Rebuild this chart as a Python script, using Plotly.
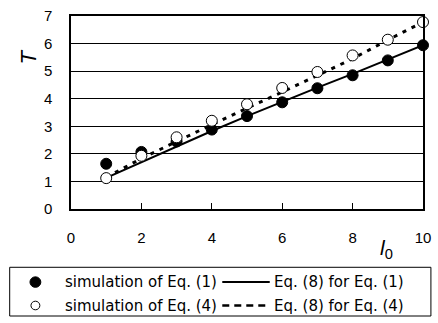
import plotly.graph_objects as go

# ---- data ----
l0_values = [1, 2, 3, 4, 5, 6, 7, 8, 9, 10]
sim_eq1 = [1.64, 2.07, 2.45, 2.88, 3.37, 3.87, 4.38, 4.85, 5.39, 5.94]
sim_eq4 = [1.12, 1.93, 2.60, 3.20, 3.80, 4.39, 4.97, 5.57, 6.14, 6.78]
fit_eq1 = [1.13, 1.70, 2.28, 2.83, 3.37, 3.89, 4.40, 4.90, 5.42, 5.94]
fit_eq4 = [1.15, 1.83, 2.45, 3.06, 3.66, 4.24, 4.84, 5.45, 6.13, 6.78]
x_ticks = [0, 2, 4, 6, 8, 10]
y_ticks = [0, 1, 2, 3, 4, 5, 6, 7]
legend_labels = ["simulation of Eq. (1)", "Eq. (8) for Eq. (1)",
                 "simulation of Eq. (4)", "Eq. (8) for Eq. (4)"]

W, H = 438, 323
ML, MR, MT, MB = 71, 11, 7, 114
PW, PH = W - ML - MR, H - MT - MB


def px(x):
    return (x - ML) / PW


def py(y):
    return (H - MB - y) / PH


FONT = "Liberation Sans, Arial, sans-serif"
LFONT = "DejaVu Sans, sans-serif"

fig = go.Figure()
fig.add_trace(go.Scatter(x=l0_values, y=fit_eq1, mode="lines",
                         line=dict(color="black", width=2), showlegend=False))
fig.add_trace(go.Scatter(x=l0_values, y=fit_eq4, mode="lines",
                         line=dict(color="black", width=3, dash="4px,6px"),
                         showlegend=False))
fig.add_trace(go.Scatter(x=l0_values, y=sim_eq1, mode="markers",
                         marker=dict(color="black", size=11, symbol="circle",
                                     line=dict(color="black", width=1)),
                         showlegend=False, cliponaxis=False))
fig.add_trace(go.Scatter(x=l0_values, y=sim_eq4, mode="markers",
                         marker=dict(color="white", size=11, symbol="circle",
                                     line=dict(color="black", width=1)),
                         showlegend=False, cliponaxis=False))

shapes = []
annotations = []

# legend box
shapes.append(dict(type="rect", xref="paper", yref="paper",
                   x0=px(9), x1=px(435), y0=py(270), y1=py(321),
                   line=dict(color="black", width=1), fillcolor="white", layer="above"))
r1, r2 = 285.5, 310
# filled marker
shapes.append(dict(type="circle", xref="paper", yref="paper",
                   x0=px(35 - 5.5), x1=px(35 + 5.5), y0=py(r1 + 5.5), y1=py(r1 - 5.5),
                   line=dict(color="black", width=1), fillcolor="black", layer="above"))
# open marker
shapes.append(dict(type="circle", xref="paper", yref="paper",
                   x0=px(35 - 4.5), x1=px(35 + 4.5), y0=py(r2 + 4.5), y1=py(r2 - 4.5),
                   line=dict(color="black", width=1), fillcolor="white", layer="above"))
# lines
shapes.append(dict(type="line", xref="paper", yref="paper",
                   x0=px(224), x1=px(272), y0=py(r1), y1=py(r1),
                   line=dict(color="black", width=2), layer="above"))
shapes.append(dict(type="line", xref="paper", yref="paper",
                   x0=px(224), x1=px(272), y0=py(r2), y1=py(r2),
                   line=dict(color="black", width=2.5, dash="7px,5px"), layer="above"))

for txt, xx, yy in [(legend_labels[0], 63, r1), (legend_labels[1], 274, r1),
                    (legend_labels[2], 63, r2), (legend_labels[3], 274, r2)]:
    annotations.append(dict(text=txt, xref="paper", yref="paper", x=px(xx), y=py(yy),
                            xanchor="left", yanchor="middle", showarrow=False,
                            font=dict(family=LFONT, size=15, color="black")))

# axis titles
annotations.append(dict(text="<i>T</i>", xref="paper", yref="paper", x=px(28), y=py(50),
                        xanchor="center", yanchor="middle", showarrow=False, textangle=-90,
                        font=dict(family=FONT, size=22, color="black")))
annotations.append(dict(text="<i>l</i><sub>0</sub>", xref="paper", yref="paper",
                        x=px(390), y=py(251), xanchor="center", yanchor="middle",
                        showarrow=False, font=dict(family=FONT, size=21, color="black")))

fig.update_layout(
    width=W, height=H,
    margin=dict(l=ML, r=MR, t=MT, b=MB),
    paper_bgcolor="white", plot_bgcolor="white",
    shapes=shapes, annotations=annotations,
    xaxis=dict(range=[0, 10], tickvals=x_ticks, ticks="inside", ticklen=6,
               tickwidth=1, tickcolor="black", showgrid=False, zeroline=False,
               showline=True, linecolor="black", linewidth=1.5, mirror=True,
               ticklabelstandoff=14,
               tickfont=dict(family=FONT, size=15, color="black")),
    yaxis=dict(range=[0, 7], tickvals=y_ticks, ticks="", showgrid=True,
               gridcolor="black", gridwidth=1, zeroline=False,
               showline=True, linecolor="black", linewidth=1.5, mirror=True,
               ticklabelstandoff=14,
               tickfont=dict(family=FONT, size=15, color="black")),
)

fig.write_html("out.html", config={"displayModeBar": False},
               post_script="document.body.style.margin='0px';document.body.style.overflow='hidden';")
